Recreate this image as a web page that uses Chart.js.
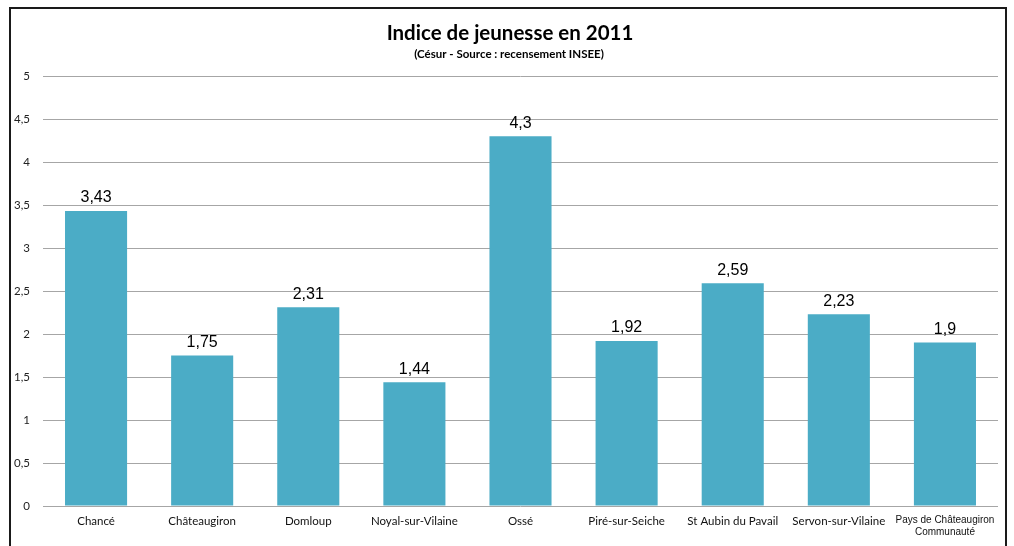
<!DOCTYPE html>
<html>
<head>
<meta charset="utf-8">
<script src="https://cdn.jsdelivr.net/npm/chart.js@4"></script>
<style>
  html, body { margin: 0; padding: 0; background: #fff; overflow: hidden; }
  #frame {
    position: absolute; left: 9px; top: 7px;
    width: 998px; height: 600px;
    box-sizing: border-box;
    border: 2px solid #1a1a1a;
  }
  #wrap { position: absolute; left: 0; top: 0; width: 1014px; height: 546px; }
</style>
</head>
<body>
<div id="frame"></div>
<div id="wrap"><canvas id="chart" width="1014" height="546"></canvas></div>
<script>
// Communes and their youth index (2011)
const communes = [
    'Chancé', 'Châteaugiron', 'Domloup', 'Noyal-sur-Vilaine', 'Ossé',
    'Piré-sur-Seiche', 'St Aubin du Pavail', 'Servon-sur-Vilaine',
    ['Pays de Châteaugiron', 'Communauté']
];
const indice = [3.43, 1.75, 2.31, 1.44, 4.3, 1.92, 2.59, 2.23, 1.9];
const yTicks = [0, 0.5, 1, 1.5, 2, 2.5, 3, 3.5, 4, 4.5, 5];

const titre = 'Indice de jeunesse en 2011';
const sousTitre = '(Césur - Source : recensement INSEE)';

// french number format, 3.43 -> "3,43"
function frNum(v) {
    return String(v).replace('.', ',');
}

// title + subtitle, centred on the frame rather than the plot
const titles = {
    id: 'titles',
    afterDraw(chart) {
        const ctx = chart.ctx;
        ctx.save();
        ctx.fillStyle = '#000';
        ctx.textAlign = 'center';
        ctx.textBaseline = 'middle';
        ctx.font = 'bold 20.5px Lato, sans-serif';
        ctx.fillText(titre, 510, 33);
        ctx.font = 'bold 11.5px Lato, sans-serif';
        ctx.fillText(sousTitre, 509, 54);
        ctx.restore();
    }
};

// draws the value above each bar
const valueLabels = {
    id: 'valueLabels',
    afterDatasetsDraw(chart) {
        const ctx = chart.ctx;
        const meta = chart.getDatasetMeta(0);
        ctx.save();
        ctx.font = '16px "Liberation Sans", Arial, sans-serif';
        ctx.fillStyle = '#000';
        ctx.textAlign = 'center';
        ctx.textBaseline = 'bottom';
        meta.data.forEach((bar, i) => {
            ctx.fillText(frNum(indice[i]), bar.x, bar.y - 5);
        });
        ctx.restore();
    }
};

new Chart(document.getElementById('chart'), {
    type: 'bar',
    data: {
        labels: communes,
        datasets: [{
            data: indice,
            backgroundColor: '#4BACC6',
            borderWidth: 0,
            barPercentage: 0.585,
            categoryPercentage: 1
        }]
    },
    options: {
        responsive: false,
        animation: false,
        layout: { padding: { left: 0, right: 16, top: 76, bottom: 0 } },
        plugins: {
            legend: { display: false },
            tooltip: { enabled: false },
            title: { display: false }
        },
        scales: {
            x: {
                grid: { display: false, drawTicks: false },
                border: { display: false },
                ticks: {
                    color: '#111',
                    padding: 8,
                    maxRotation: 0,
                    autoSkip: false,
                    font: (c) => c.index === 8
                        ? { family: '"Liberation Sans", Arial', size: 10 }
                        : { family: 'Lato', size: 11.5 }
                },
                afterFit: (s) => { s.height = 40; }
            },
            y: {
                min: 0,
                max: 5,
                afterBuildTicks: (s) => { s.ticks = yTicks.map(v => ({ value: v })); },
                grid: { color: '#a6a6a6', lineWidth: 1, drawTicks: false },
                border: { display: false },
                ticks: {
                    color: '#222',
                    padding: 13,
                    font: { family: 'Lato', size: 11.5 },
                    callback: (v) => frNum(v)
                },
                afterFit: (s) => { s.width = 43; }
            }
        }
    },
    plugins: [valueLabels, titles]
});
</script>
</body>
</html>
